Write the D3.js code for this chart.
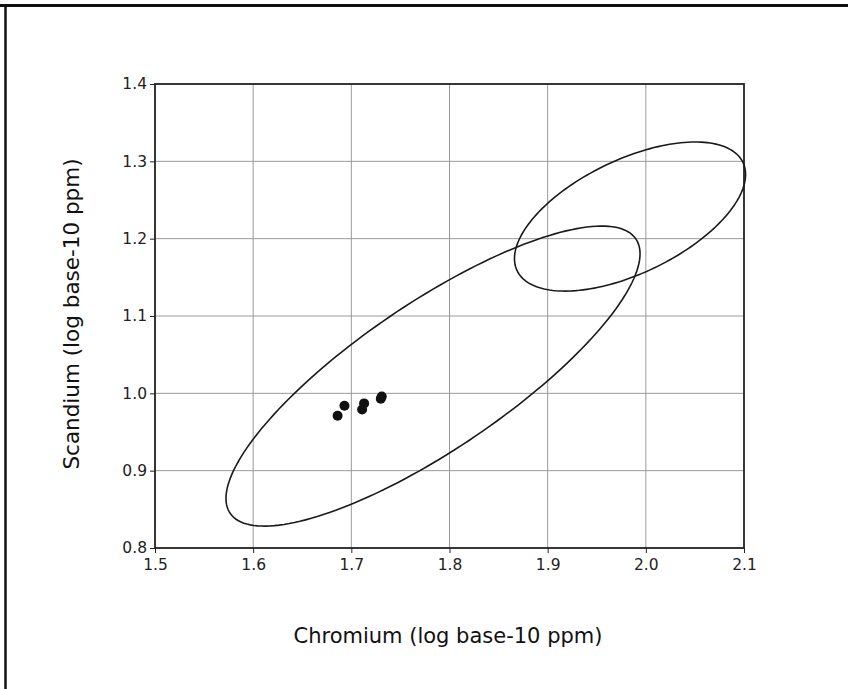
<!DOCTYPE html>
<html><head><meta charset="utf-8">
<script src="https://cdn.jsdelivr.net/npm/d3@7"></script>
<style>body{margin:0;background:#fff}svg{display:block}</style>
</head><body>
<script>
// ---- data ----
const xTicks = [1.5, 1.6, 1.7, 1.8, 1.9, 2.0, 2.1];
const yTicks = [0.8, 0.9, 1.0, 1.1, 1.2, 1.3, 1.4];
const xLabels = ["1.5","1.6","1.7","1.8","1.9","2.0","2.1"];
const yLabels = ["0.8","0.9","1.0","1.1","1.2","1.3","1.4"];
const pointsCr = [1.686, 1.693, 1.711, 1.713, 1.730, 1.731];
const pointsSc = [0.971, 0.984, 0.979, 0.987, 0.993, 0.996];
// ellipses: center x, center y, half-range x, half-range y, correlation
const ellCx = [1.7832, 1.9839];
const ellCy = [1.0223, 1.2286];
const ellSx = [0.2109, 0.1177];
const ellSy = [0.1940, 0.0964];
const ellR  = [0.815, 0.564];
const xTitle = "Chromium (log base-10 ppm)";
const yTitle = "Scandium (log base-10 ppm)";

const W = 848, H = 689;
const m = {left:155, right:848-744, top:84, bottom:689-548};
const svg = d3.select("body").append("svg").attr("width", W).attr("height", H);

// outer frame (top and left)
svg.append("line").attr("x1",0).attr("x2",W).attr("y1",5.5).attr("y2",5.5).attr("stroke","#111").attr("stroke-width",3);
svg.append("line").attr("x1",5.5).attr("x2",5.5).attr("y1",4).attr("y2",H).attr("stroke","#111").attr("stroke-width",2.5);

const x = d3.scaleLinear().domain([1.5, 2.1]).range([m.left, W - m.right]);
const y = d3.scaleLinear().domain([0.8, 1.4]).range([H - m.bottom, m.top]);

const font = "'DejaVu Sans', sans-serif";

// grid
const g = svg.append("g");
g.selectAll(".vg").data(xTicks.slice(1, -1)).join("line")
  .attr("x1", d=>x(d)).attr("x2", d=>x(d)).attr("y1", y(0.8)).attr("y2", y(1.4))
  .attr("stroke", "#9a9a9a").attr("stroke-width", 1);
g.selectAll(".hg").data(yTicks.slice(1, -1)).join("line")
  .attr("y1", d=>y(d)).attr("y2", d=>y(d)).attr("x1", x(1.5)).attr("x2", x(2.1))
  .attr("stroke", "#9a9a9a").attr("stroke-width", 1);

// axes
const xAxis = d3.axisBottom(x).tickValues(xTicks).tickFormat((d,i)=>xLabels[i]).tickSizeInner(5).tickSizeOuter(0).tickPadding(6);
const yAxis = d3.axisLeft(y).tickValues(yTicks).tickFormat((d,i)=>yLabels[i]).tickSizeInner(5).tickSizeOuter(0).tickPadding(3);
const gx = svg.append("g").attr("transform", `translate(0,${y(0.8)})`).call(xAxis);
const gy = svg.append("g").attr("transform", `translate(${x(1.5)},0)`).call(yAxis);
[gx, gy].forEach(a => {
  a.select(".domain").remove();
  a.selectAll(".tick line").attr("stroke", "#222").attr("stroke-width", 1);
  a.selectAll("text").attr("font-family", font).attr("font-size", 15.5).attr("fill", "#222");
});

// plot frame
svg.append("rect").attr("x", x(1.5)).attr("y", y(1.4)).attr("width", x(2.1)-x(1.5)).attr("height", y(0.8)-y(1.4))
  .attr("fill", "none").attr("stroke", "#222").attr("stroke-width", 1.8);

// ellipses
const line = d3.line().x(d=>x(d[0])).y(d=>y(d[1])).curve(d3.curveLinearClosed);
ellCx.forEach((cx, i) => {
  const pts = d3.range(0, 360, 2).map(a => {
    const t = a * Math.PI / 180;
    const r = ellR[i];
    return [cx + ellSx[i]*Math.cos(t), ellCy[i] + ellSy[i]*(r*Math.cos(t) + Math.sqrt(1-r*r)*Math.sin(t))];
  });
  svg.append("path").attr("d", line(pts)).attr("fill", "none").attr("stroke", "#1a1a1a").attr("stroke-width", 1.6);
});

// points
svg.selectAll(".pt").data(pointsCr).join("circle")
  .attr("cx", d=>x(d)).attr("cy", (d,i)=>y(pointsSc[i])).attr("r", 5).attr("fill", "#111");

// titles
svg.append("text").attr("x", 448).attr("y", 643).attr("text-anchor", "middle")
  .attr("font-family", font).attr("font-size", 21).attr("fill", "#111").text(xTitle);
svg.append("text").attr("transform", "translate(79,314) rotate(-90)").attr("text-anchor", "middle")
  .attr("font-family", font).attr("font-size", 21.5).attr("fill", "#111").text(yTitle);
</script>
</body></html>
